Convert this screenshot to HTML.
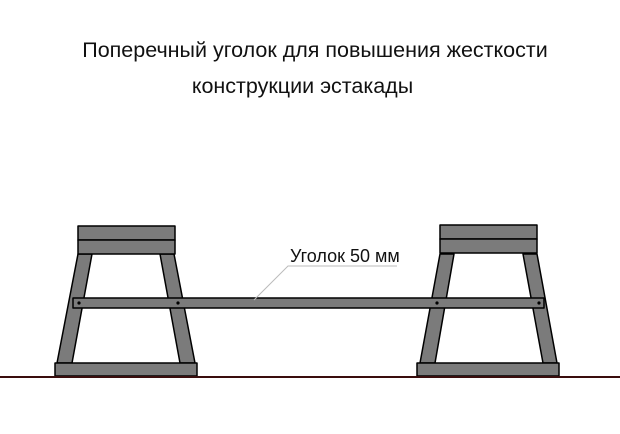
<!DOCTYPE html>
<html><head><meta charset="utf-8"><style>
html,body{margin:0;padding:0;background:#fff;}
</style></head><body>
<svg width="620" height="429" viewBox="0 0 620 429" xmlns="http://www.w3.org/2000/svg">
<rect width="620" height="429" fill="#fff"/>
<g font-family="Liberation Sans, Arial, sans-serif" fill="#111">
<text x="315" y="57" font-size="21.5" text-anchor="middle">Поперечный уголок для повышения жесткости</text>
<text x="302.5" y="93" font-size="21.5" text-anchor="middle">конструкции эстакады</text>
</g>
<g fill="#7b7b7b" stroke="#000" stroke-width="1.5" stroke-linejoin="round">
<polygon points="78,254 92,254 72,363 57,363"/>
<polygon points="160,254 174,254 195,363 180,363"/>
<rect x="78" y="226" width="97" height="14"/>
<rect x="78" y="240" width="97" height="14"/>
<rect x="55" y="363" width="142" height="13"/>
<polygon points="440,254 454,254 435,363 420,363"/>
<polygon points="523,254 537,254 557,363 543,363"/>
<rect x="440" y="225" width="97" height="14"/>
<rect x="440" y="239" width="97" height="14"/>
<rect x="417" y="363" width="142" height="13"/>
<rect x="73" y="298" width="471" height="10"/>
</g>
<g fill="#000">
<circle cx="79" cy="303" r="1.6"/>
<circle cx="178" cy="303" r="1.6"/>
<circle cx="437" cy="303" r="1.6"/>
<circle cx="539" cy="303" r="1.6"/>
</g>
<line x1="0" y1="377" x2="620" y2="377" stroke="#3a0d0d" stroke-width="2"/>
<polyline points="254,300 288,266 397,266" fill="none" stroke="#bbb" stroke-width="1"/>
<text x="290" y="262" font-family="Liberation Sans, Arial, sans-serif" font-size="18" fill="#111">Уголок 50 мм</text>
</svg>
</body></html>
